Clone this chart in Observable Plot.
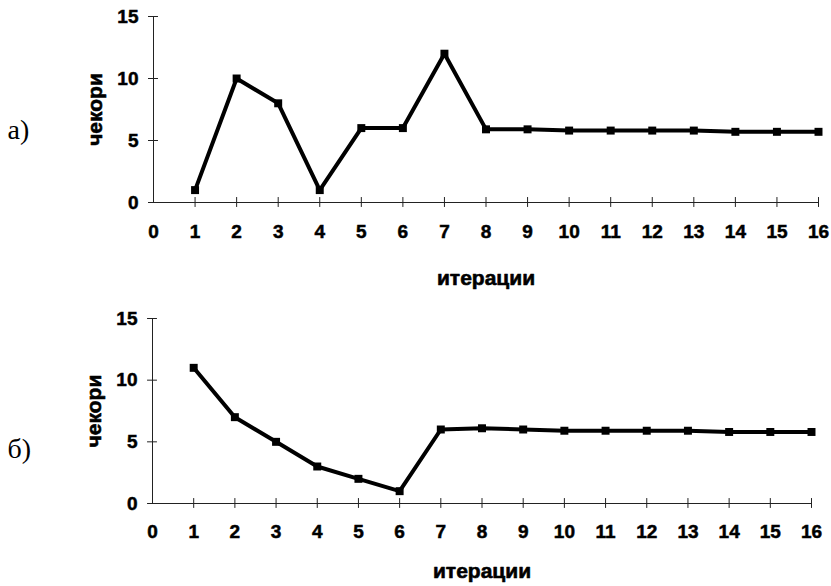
<!DOCTYPE html>
<html>
<head>
<meta charset="utf-8">
<script src="https://cdn.jsdelivr.net/npm/d3@7"></script>
<script src="https://cdn.jsdelivr.net/npm/@observablehq/plot@0.6"></script>
<style>
  html, body { margin: 0; padding: 0; background: #fff; }
  #wrap { width: 831px; height: 586px; position: relative; overflow: hidden; }
  #wrap svg { display: block; }
  #wrap g[aria-label$="tick label"] { stroke: #000; stroke-width: 0.5px; }
</style>
</head>
<body>
<div id="wrap"></div>
<script>
// Data
const iterations = [1, 2, 3, 4, 5, 6, 7, 8, 9, 10, 11, 12, 13, 14, 15, 16];
const stepsA = [1, 10, 8, 1, 6, 6, 12, 5.9, 5.9, 5.8, 5.8, 5.8, 5.8, 5.7, 5.7, 5.7];
const stepsB = [11, 7, 5, 3, 2, 1, 6, 6.1, 6, 5.9, 5.9, 5.9, 5.9, 5.8, 5.8, 5.8];
const xTicks = [0, 1, 2, 3, 4, 5, 6, 7, 8, 9, 10, 11, 12, 13, 14, 15, 16];
const yTicks = [0, 5, 10, 15];
const xLabel = "итерации";
const yLabel = "чекори";
const panelLabels = ["а)", "б)"];

function panel(values, label, cfg) {
  const data = iterations.map((x, i) => ({x, y: values[i]}));
  return Plot.plot({
    width: 831,
    height: cfg.height,
    marginLeft: cfg.ml,
    marginRight: cfg.mr,
    marginTop: cfg.mt,
    marginBottom: cfg.mb,
    style: "font-family: 'Liberation Sans', Arial, sans-serif; font-size: 19px; font-weight: bold; color: #000; background: #fff; overflow: visible;",
    x: {domain: [0, 16]},
    y: {domain: [0, 15]},
    marks: [
      Plot.ruleX([0], {stroke: "#222", strokeWidth: 1}),
      Plot.ruleY([0], {stroke: "#222", strokeWidth: 1}),
      Plot.ruleX(xTicks.filter(d => d > 0), {x: d => d, y1: -0.4, y2: 0.4, stroke: "#222", strokeWidth: 1}),
      Plot.ruleY(yTicks, {y: d => d, x1: -0.12, x2: 0.12, stroke: "#222", strokeWidth: 1}),
      Plot.axisX({ticks: xTicks, tickSize: 0, tickPadding: cfg.tp, tickFormat: d => d, label: null, fontSize: 19, fontWeight: "bold"}),
      Plot.axisY({ticks: yTicks, tickSize: 0, tickPadding: 15, tickFormat: d => d, label: null, fontSize: 19, fontWeight: "bold"}),
      Plot.line(data, {x: "x", y: "y", stroke: "#000", strokeWidth: 4, strokeLinejoin: "miter"}),
      Plot.dot(data, {x: "x", y: "y", symbol: "square", r: 4.5, fill: "#000", stroke: null}),
      Plot.text([xLabel], {frameAnchor: "bottom", textAnchor: "middle", lineAnchor: "middle", dy: cfg.xl, fontSize: 21, fontWeight: "bold", fill: "#000", stroke: "#000", strokeWidth: 0.6}),
      Plot.text([yLabel], {frameAnchor: "left", textAnchor: "middle", lineAnchor: "middle", dx: -58, rotate: -90, fontSize: 21, fontWeight: "bold", fill: "#000", stroke: "#000", strokeWidth: 0.6}),
      Plot.text([label], {frameAnchor: "left", textAnchor: "start", lineAnchor: "middle", dx: 7 - cfg.ml, dy: cfg.pl, fontSize: 28, fontWeight: "normal", fontFamily: "'Liberation Serif', serif", fill: "#000"})
    ]
  });
}

const wrap = document.getElementById("wrap");
wrap.appendChild(panel(stepsA, panelLabels[0], {height: 293, ml: 153, mr: 13, mt: 16, mb: 91, tp: 22, xl: 76, pl: 21}));
wrap.appendChild(panel(stepsB, panelLabels[1], {height: 293, ml: 152, mr: 20, mt: 25, mb: 83, tp: 21, xl: 68, pl: 38}));
</script>
</body>
</html>
